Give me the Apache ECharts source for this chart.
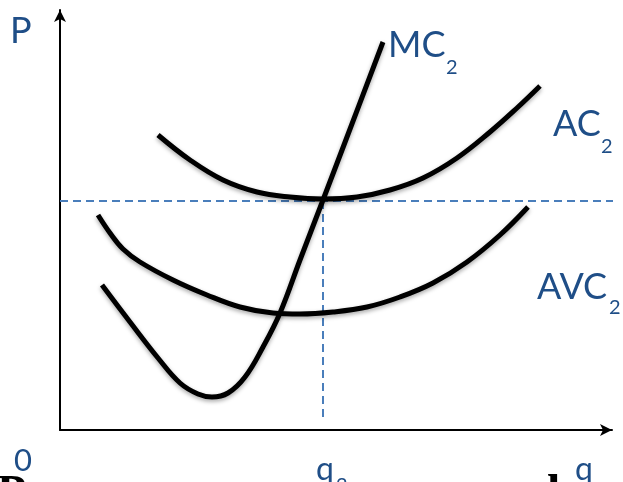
<!DOCTYPE html>
<html>
<head>
<meta charset="utf-8">
<script src="https://cdn.jsdelivr.net/npm/echarts@6/dist/echarts.min.js"></script>
<style>
  html, body { margin: 0; padding: 0; background: #fff; }
  #main { width: 623px; height: 482px; }
</style>
</head>
<body>
<div id="main"></div>
<script>
// q on x, P on y (arbitrary units)
var mcCurve = [[42,145],[70,108],[98,72],[120,47],[138,36],[152,33],[168,37],[185,53],[203,83],[220,117],[240,170],[263,230],[287,293],[323,388]];
var acCurve = [[98,295],[130,270],[163,250],[197,238],[230,233],[263,231],[297,233],[330,240],[363,252],[397,272],[430,298],[457,322],[480,344]];
var avcCurve = [[38,215],[50,197],[63,181],[80,168],[113,150],[147,135],[180,123],[213,117],[240,116],[273,118],[307,123],[340,133],[373,147],[407,168],[440,195],[468,223]];
var pLevel = 229;   // price where MC crosses AC minimum
var q2 = 263;
var xMax = 552, yMax = 420;

var blue = '#1f4e87';
var dash = '#4a7ebb';
var curveStyle = {
  color: '#000', width: 5,
  shadowColor: 'rgba(0,0,0,0.35)', shadowBlur: 4, shadowOffsetY: 2
};

var chart = echarts.init(document.getElementById('main'));

function label(txt, x, y, size, color, font, weight) {
  return {
    type: 'text', x: x, y: y,
    style: {
      text: txt, fill: color || blue, fontSize: size,
      fontFamily: font || 'Lato', fontWeight: weight || 'normal',
      verticalAlign: 'middle', align: 'left'
    }
  };
}

chart.setOption({
  animation: false,
  grid: { left: 60, right: 11, top: 10, bottom: 52 },
  xAxis: {
    type: 'value', min: 0, max: xMax,
    axisLine: { lineStyle: { color: '#000', width: 2 }, symbol: ['none', 'arrow'], symbolSize: [9, 12] },
    axisTick: { show: false }, axisLabel: { show: false }, splitLine: { show: false }
  },
  yAxis: {
    type: 'value', min: 0, max: yMax,
    axisLine: { onZero: false, lineStyle: { color: '#000', width: 2 }, symbol: ['none', 'arrow'], symbolSize: [9, 12] },
    axisTick: { show: false }, axisLabel: { show: false }, splitLine: { show: false }
  },
  series: [
    {
      type: 'line', data: [[0, pLevel], [563, pLevel]], clip: false, symbol: 'none',
      lineStyle: { color: dash, width: 2, type: [8, 5] }, z: 1
    },
    {
      type: 'line', data: [[q2, pLevel], [q2, 12]], symbol: 'none',
      lineStyle: { color: dash, width: 2, type: [8, 5] }, z: 1
    },
    { name: 'AC', type: 'line', data: acCurve, smooth: 0.4, symbol: 'none', lineStyle: curveStyle, z: 3 },
    { name: 'AVC', type: 'line', data: avcCurve, smooth: 0.4, symbol: 'none', lineStyle: curveStyle, z: 3 },
    { name: 'MC', type: 'line', data: mcCurve, smooth: 0.4, symbol: 'none', lineStyle: curveStyle, z: 4 }
  ],
  graphic: [
    label('P', 10, 31, 36),
    label('MC', 388, 45, 36),
    label('2', 446, 68, 20),
    label('AC', 553, 124, 36),
    label('2', 601, 147, 20),
    label('AVC', 537, 287, 36),
    label('2', 609, 308, 20),
    label('0', 14, 461, 31),
    label('q', 316, 470, 32),
    label('2', 336, 486, 20),
    label('q', 575, 470, 32),
    label('P', -3, 496, 48, '#000', 'Liberation Serif', 'bold'),
    label('l', 547, 496, 48, '#000', 'Liberation Serif', 'bold')
  ]
});
</script>
</body>
</html>
